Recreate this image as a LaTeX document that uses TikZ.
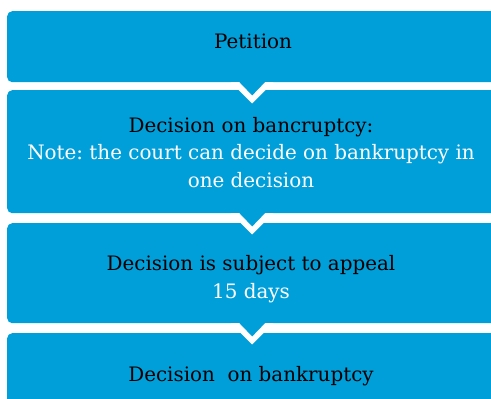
\documentclass[tikz,border=0pt]{standalone}
\usepackage{fontspec}
\setmainfont{DejaVu Serif}
\usetikzlibrary{positioning}

\definecolor{stageblue}{RGB}{0,159,218}

\tikzset{
  stage/.style={fill=stageblue, rounded corners=5pt, minimum width=490pt,
    anchor=north west, inner sep=0pt},
  caption/.style={font=\fontsize{19.9}{27.6}\selectfont\frenchspacing,
    align=center, text=black, anchor=base, inner sep=0pt},
}

\begin{document}
\begin{tikzpicture}[x=1pt, y=-1pt]

    % Fix the size of the page and cut off what runs past it
    \useasboundingbox (0,0) rectangle (491,399);
    \clip (0,0) rectangle (491,399);

    % Define the depth of the tabs and the width of the white gap
    \def\tab{13}
    \def\gap{5.7}

    % Define the top left corners of the stages
    \coordinate (S1) at (7,11);
    \coordinate (S2) at (7,90);
    \coordinate (S3) at (7,223);
    \coordinate (S4) at (7,333);

    % Draw the stages
    \node[stage, minimum height=71pt] (petition) at (S1) {};
    \node[stage, minimum height=123pt] (ruling) at (S2) {};
    \node[stage, minimum height=100pt] (appeal) at (S3) {};
    \node[stage, minimum height=80pt] (final) at (S4) {};

    % Draw the tabs pointing down into the next stage
    \foreach \s in {petition, ruling, appeal} {
      \begin{scope}
        \clip ([xshift=-40pt]\s.south) rectangle ([xshift=40pt, yshift=-40pt]\s.south);
        \draw[white, line width=2*\gap pt, line join=miter]
          ([xshift=-\tab pt-10pt, yshift=10pt]\s.south)
          -- ([yshift=-\tab pt]\s.south)
          -- ([xshift=\tab pt+10pt, yshift=10pt]\s.south);
      \end{scope}
      \fill[stageblue] ([xshift=-\tab pt, yshift=0.5pt]\s.south)
        -- ([yshift=-\tab pt]\s.south)
        -- ([xshift=\tab pt, yshift=0.5pt]\s.south) -- cycle;
    }

    % Label the stages (the base is that of the last line)
    \node[caption] (petition-text) at (253,48.3) {Petition};
    \node[caption] (ruling-text) at (251,187.3) {Decision on bancruptcy:\\
      \textcolor{white}{Note: the court can decide on bankruptcy in}\\
      \textcolor{white}{one decision}};
    \node[caption] (appeal-text) at (251,298.3) {Decision is subject to appeal\\
      \textcolor{white}{15 days}};
    \node[caption] (final-text) at (251,381.7) {Decision~ on bankruptcy};

\end{tikzpicture}
\end{document}
